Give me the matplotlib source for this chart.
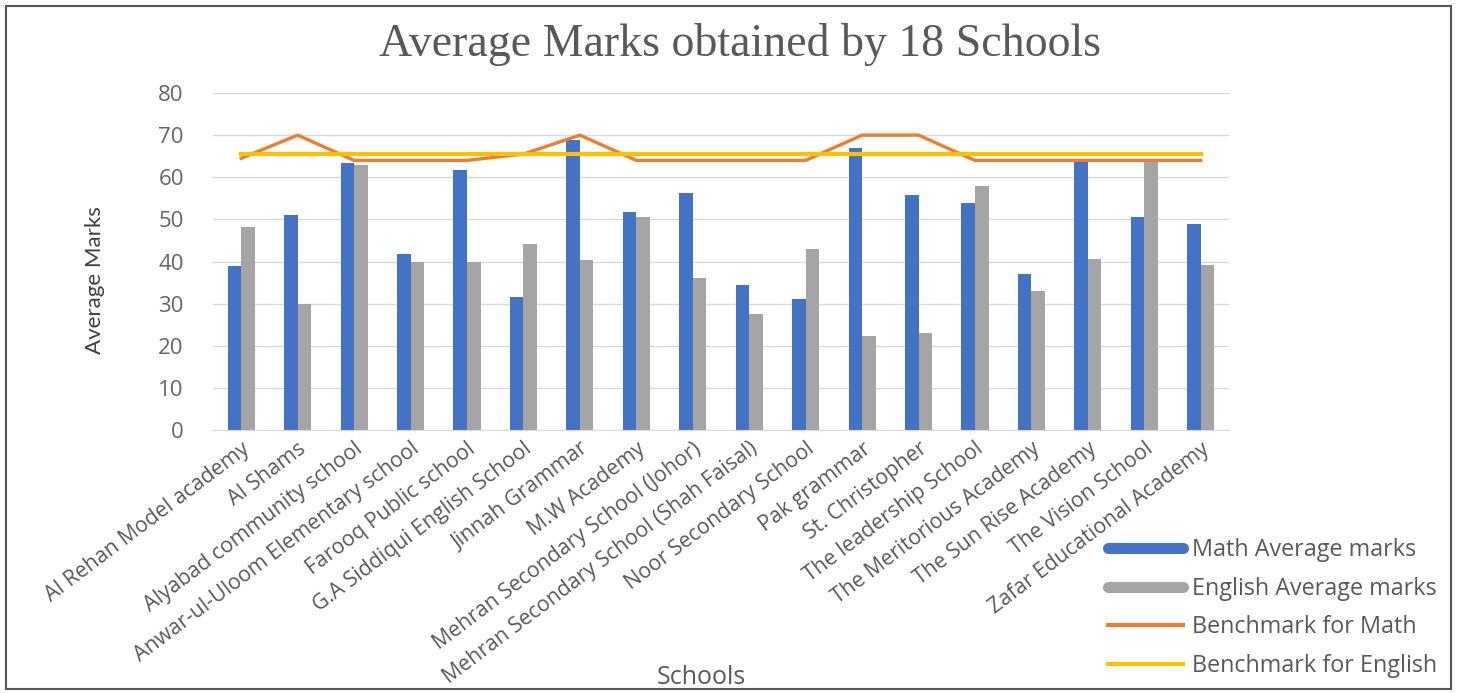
import matplotlib
matplotlib.use("Agg")
import matplotlib.pyplot as plt
from matplotlib.lines import Line2D
from matplotlib.patches import Rectangle
import numpy as np

schools = [
    "Al Rehan Model academy", "Al Shams", "Alyabad community school",
    "Anwar-ul-Uloom Elementary school", "Farooq Public school",
    "G.A Siddiqui English School", "Jinnah Grammar", "M.W Academy",
    "Mehran Secondary School (Johor)", "Mehran Secondary School (Shah Faisal)",
    "Noor Secondary School", "Pak grammar", "St. Christopher",
    "The leadership School", "The Meritorious Academy", "The Sun Rise Academy",
    "The Vision School", "Zafar Educational Academy",
]
math_avg = [38.9, 51.0, 63.3, 41.7, 61.7, 31.5, 68.8, 51.7, 56.2,
            34.4, 31.1, 66.9, 55.8, 54.0, 37.0, 64.0, 50.6, 49.0]
english_avg = [48.3, 30.0, 62.9, 40.0, 40.0, 44.2, 40.4, 50.6, 36.0,
               27.5, 42.9, 22.4, 23.0, 57.9, 33.0, 40.6, 64.0, 39.2]
bench_math = [64.5, 70, 64, 64, 64, 65.5, 70, 64, 64,
              64, 64, 70, 70, 64, 64, 64, 64, 64]
bench_english = [65.5] * 18

blue = "#4472C4"
gray = "#A5A5A5"
orange = "#ED7D31"
yellow = "#FFC000"
txt = "#595959"
sans = ["Open Sans", "DejaVu Sans"]

fig = plt.figure(figsize=(14.57, 6.93), dpi=100)
ax = fig.add_axes([213 / 1457, 1 - 430 / 693, (1229 - 213) / 1457, (430 - 93) / 693])

x = np.arange(len(schools))
w = 0.24
ax.bar(x - w / 2, math_avg, w, color=blue, zorder=2)
ax.bar(x + w / 2, english_avg, w, color=gray, zorder=2)
ax.plot(x, bench_math, color=orange, lw=2.4, zorder=3)
ax.plot(x, bench_english, color=yellow, lw=3, zorder=4)

ax.set_ylim(0, 80)
ax.set_xlim(-0.5, len(schools) - 0.5)
ax.set_yticks(range(0, 81, 10))
ax.grid(axis="y", color="#D9D9D9", lw=1, zorder=0)
for s in ["top", "right", "left"]:
    ax.spines[s].set_visible(False)
ax.spines["bottom"].set_color("#D9D9D9")
ax.tick_params(axis="both", length=0, colors="#666666")
ax.tick_params(axis="y", pad=21)
ax.tick_params(axis="x", pad=6)
ax.set_xticks(x)
ax.set_xticklabels(schools, rotation=37, ha="right", rotation_mode="anchor",
                   fontsize=15.3, color=txt, family=sans)
for lab in ax.get_yticklabels():
    lab.set_family(sans)
    lab.set_fontsize(16)

fig.text(740 / 1457, 1 - 45 / 693, "Average Marks obtained by 18 Schools", ha="center",
         va="center", fontsize=33, color=txt, family="Liberation Serif")
fig.text(95 / 1457, 1 - 280 / 693, "Average Marks", rotation=90, ha="center",
         va="center", fontsize=16, color="#404040",
         family=["Liberation Sans Narrow", "Lato", "DejaVu Sans"])
fig.text(701 / 1457, 1 - 678 / 693, "Schools", ha="center", va="center",
         fontsize=18, color=txt, family=sans)

handles = [
    Line2D([], [], color=blue, lw=8, solid_capstyle="round"),
    Line2D([], [], color=gray, lw=8, solid_capstyle="round"),
    Line2D([], [], color=orange, lw=3),
    Line2D([], [], color=yellow, lw=3),
]
labels = ["Math Average marks", "English Average marks",
          "Benchmark for Math", "Benchmark for English"]
leg = fig.legend(handles, labels, loc="center left",
                 bbox_to_anchor=(1108 / 1457, 1 - 608 / 693),
                 frameon=False, borderpad=0, borderaxespad=0,
                 handlelength=3.2, handletextpad=0.4, labelspacing=0.62,
                 prop={"family": sans, "size": 16.8})
for t in leg.get_texts():
    t.set_color(txt)

fig.patches.append(Rectangle((6 / 1457, 4 / 693), 1445 / 1457, 683 / 693,
                             transform=fig.transFigure, fill=False,
                             edgecolor="#555555", lw=1.5))

fig.savefig("out.png", dpi=100)
